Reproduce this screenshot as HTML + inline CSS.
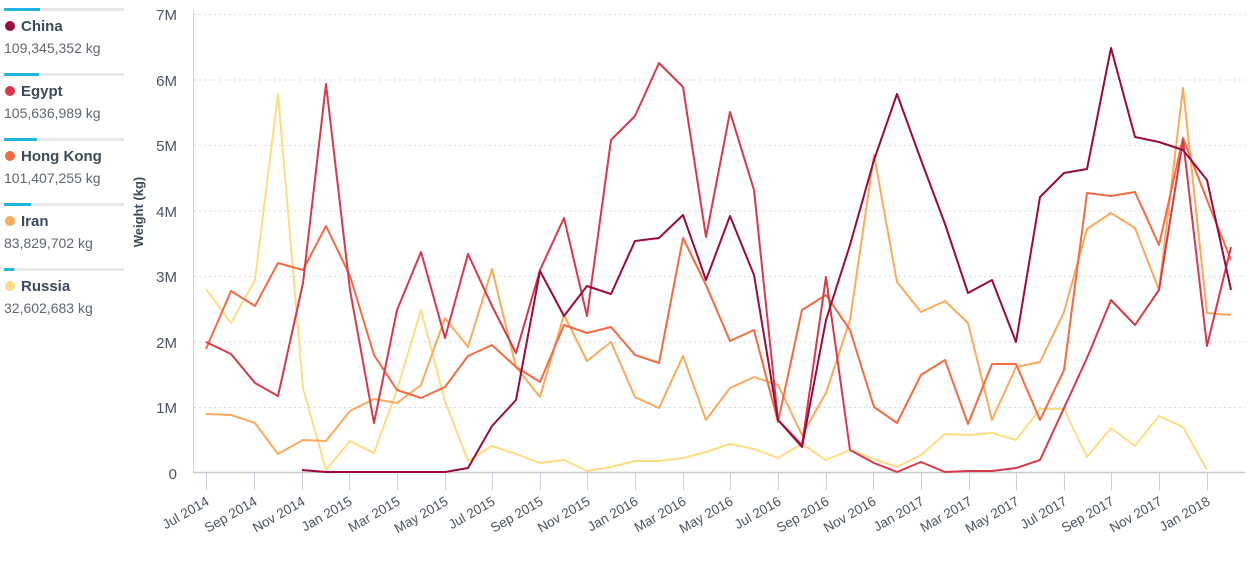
<!DOCTYPE html>
<html><head><meta charset="utf-8"><style>
body{margin:0;width:1255px;height:561px;background:#fff;overflow:hidden;font-family:"Liberation Sans",sans-serif}
</style></head><body>
<svg width="1255" height="561" xmlns="http://www.w3.org/2000/svg" font-family="Liberation Sans, sans-serif">
<g id="legend">
<rect x="4" y="8" width="120" height="3" fill="#e6e7e9"/><rect x="4" y="8" width="36" height="3" fill="#1fb5e3"/>
<circle cx="10" cy="26" r="5" fill="#9b0a3c"/><text x="21" y="31" font-size="15" font-weight="bold" fill="#3d4a5c">China</text><text x="4" y="53" font-size="14" fill="#5f6670">109,345,352 kg</text>
<rect x="4" y="73" width="120" height="3" fill="#e6e7e9"/><rect x="4" y="73" width="35" height="3" fill="#1fb5e3"/>
<circle cx="10" cy="91" r="5" fill="#d63a4a"/><text x="21" y="96" font-size="15" font-weight="bold" fill="#3d4a5c">Egypt</text><text x="4" y="118" font-size="14" fill="#5f6670">105,636,989 kg</text>
<rect x="4" y="138" width="120" height="3" fill="#e6e7e9"/><rect x="4" y="138" width="33" height="3" fill="#1fb5e3"/>
<circle cx="10" cy="156" r="5" fill="#f26b43"/><text x="21" y="161" font-size="15" font-weight="bold" fill="#3d4a5c">Hong Kong</text><text x="4" y="183" font-size="14" fill="#5f6670">101,407,255 kg</text>
<rect x="4" y="203" width="120" height="3" fill="#e6e7e9"/><rect x="4" y="203" width="27" height="3" fill="#1fb5e3"/>
<circle cx="10" cy="221" r="5" fill="#fba95b"/><text x="21" y="226" font-size="15" font-weight="bold" fill="#3d4a5c">Iran</text><text x="4" y="248" font-size="14" fill="#5f6670">83,829,702 kg</text>
<rect x="4" y="268" width="120" height="3" fill="#e6e7e9"/><rect x="4" y="268" width="10" height="3" fill="#1fb5e3"/>
<circle cx="10" cy="286" r="5" fill="#fedc85"/><text x="21" y="291" font-size="15" font-weight="bold" fill="#3d4a5c">Russia</text><text x="4" y="313" font-size="14" fill="#5f6670">32,602,683 kg</text>
</g>
<text transform="translate(143,212) rotate(-90)" text-anchor="middle" font-size="13" font-weight="bold" fill="#3d4a5c">Weight (kg)</text>
<g stroke="#d8dadd" stroke-dasharray="2,3" stroke-width="1">
<line x1="194" x2="1245" y1="14.5" y2="14.5"/><line x1="194" x2="1245" y1="80" y2="80"/><line x1="194" x2="1245" y1="145.5" y2="145.5"/><line x1="194" x2="1245" y1="211" y2="211"/><line x1="194" x2="1245" y1="276.5" y2="276.5"/><line x1="194" x2="1245" y1="342" y2="342"/><line x1="194" x2="1245" y1="407.5" y2="407.5"/>
</g>
<g font-size="15" fill="#4a5360" text-anchor="end">
<text x="177" y="20">7M</text><text x="177" y="86">6M</text><text x="177" y="151">5M</text><text x="177" y="217">4M</text><text x="177" y="282">3M</text><text x="177" y="348">2M</text><text x="177" y="413">1M</text><text x="177" y="479">0</text>
</g>
<line x1="193.5" y1="10" x2="193.5" y2="473" stroke="#d0d4da"/>
<line x1="193" y1="472.5" x2="1245" y2="472.5" stroke="#c5cad3" stroke-width="1.5"/>
<g stroke="#c8d0e0" stroke-width="1">
<line x1="206.5" x2="206.5" y1="473" y2="490"/><line x1="254.5" x2="254.5" y1="473" y2="490"/><line x1="302.5" x2="302.5" y1="473" y2="490"/><line x1="349.5" x2="349.5" y1="473" y2="490"/><line x1="397.5" x2="397.5" y1="473" y2="490"/><line x1="445.5" x2="445.5" y1="473" y2="490"/><line x1="492.5" x2="492.5" y1="473" y2="490"/><line x1="540.5" x2="540.5" y1="473" y2="490"/><line x1="587.5" x2="587.5" y1="473" y2="490"/><line x1="635.5" x2="635.5" y1="473" y2="490"/><line x1="683.5" x2="683.5" y1="473" y2="490"/><line x1="730.5" x2="730.5" y1="473" y2="490"/><line x1="778.5" x2="778.5" y1="473" y2="490"/><line x1="826.5" x2="826.5" y1="473" y2="490"/><line x1="873.5" x2="873.5" y1="473" y2="490"/><line x1="921.5" x2="921.5" y1="473" y2="490"/><line x1="969.5" x2="969.5" y1="473" y2="490"/><line x1="1016.5" x2="1016.5" y1="473" y2="490"/><line x1="1064.5" x2="1064.5" y1="473" y2="490"/><line x1="1111.5" x2="1111.5" y1="473" y2="490"/><line x1="1159.5" x2="1159.5" y1="473" y2="490"/><line x1="1207.5" x2="1207.5" y1="473" y2="490"/>
</g>
<g font-size="13.5" fill="#4a5360" text-anchor="end">
<text transform="translate(210,504) rotate(-30)">Jul 2014</text>
<text transform="translate(258,504) rotate(-30)">Sep 2014</text>
<text transform="translate(306,504) rotate(-30)">Nov 2014</text>
<text transform="translate(353,504) rotate(-30)">Jan 2015</text>
<text transform="translate(401,504) rotate(-30)">Mar 2015</text>
<text transform="translate(449,504) rotate(-30)">May 2015</text>
<text transform="translate(496,504) rotate(-30)">Jul 2015</text>
<text transform="translate(544,504) rotate(-30)">Sep 2015</text>
<text transform="translate(591,504) rotate(-30)">Nov 2015</text>
<text transform="translate(639,504) rotate(-30)">Jan 2016</text>
<text transform="translate(687,504) rotate(-30)">Mar 2016</text>
<text transform="translate(734,504) rotate(-30)">May 2016</text>
<text transform="translate(782,504) rotate(-30)">Jul 2016</text>
<text transform="translate(830,504) rotate(-30)">Sep 2016</text>
<text transform="translate(877,504) rotate(-30)">Nov 2016</text>
<text transform="translate(925,504) rotate(-30)">Jan 2017</text>
<text transform="translate(973,504) rotate(-30)">Mar 2017</text>
<text transform="translate(1020,504) rotate(-30)">May 2017</text>
<text transform="translate(1068,504) rotate(-30)">Jul 2017</text>
<text transform="translate(1115,504) rotate(-30)">Sep 2017</text>
<text transform="translate(1163,504) rotate(-30)">Nov 2017</text>
<text transform="translate(1211,504) rotate(-30)">Jan 2018</text>
</g>
<g fill="none" stroke-width="2" stroke-linejoin="round">
<polyline stroke="#fedc85" points="206,289 231,323 255,280 278,94 303,388 326,470 350,441 374,453 397,390 421,310 445,401 468,461 492,446 516,454 540,463 564,460 587,471 611,467 635,461 659,461 683,458 706,452 730,444 754,449 778,458 802,444 826,460 850,450 874,459 897,467 921,455 945,434 968,435 992,433 1016,440 1040,409 1064,409 1087,457 1111,428 1135,446 1159,416 1183,427 1207,470"/>
<polyline stroke="#fba95b" points="206,414 231,415 255,423 278,454 303,440 326,441 350,411 374,399 397,403 421,385 445,318 468,347 492,269 516,367 540,397 564,315 587,361 611,342 635,397 659,408 683,356 706,420 730,388 754,377 778,385 802,435 826,393 850,320 874,155 897,282 921,312 945,301 968,323 992,420 1016,367 1040,362 1064,312 1087,229 1111,213 1135,228 1159,290 1183,88 1207,313 1231,315"/>
<polyline stroke="#f26b43" points="206,349 231,291 255,306 278,263 303,270 326,226 350,276 374,355 397,390 421,398 445,387 468,356 492,345 516,367 540,382 564,325 587,333 611,327 635,355 659,363 683,238 706,285 730,341 754,330 778,422 802,310 826,295 850,330 874,407 897,423 921,375 945,360 968,424 992,364 1016,364 1040,420 1064,370 1087,193 1111,196 1135,192 1159,245 1183,138 1207,200 1231,260"/>
<polyline stroke="#d63a4a" points="206,342 231,354 255,383 278,396 303,283 326,84 350,290 374,423 397,310 421,252 445,338 468,254 492,306 516,353 540,270 564,218 587,316 611,140 635,116 659,63 683,87 706,237 730,112 754,190 778,420 802,445 826,277 850,450 874,463 897,472 921,462 945,472 968,471 992,471 1016,468 1040,460 1064,408 1087,358 1111,300 1135,325 1159,290 1183,140 1207,346 1231,247"/>
<polyline stroke="#9b0a3c" points="302,470 326,472 350,472 374,472 397,472 421,472 445,472 468,468 492,426 516,400 540,271 564,316 587,286 611,294 635,241 659,238 683,215 706,280 730,216 754,275 778,420 802,447 826,320 850,245 874,160 897,94 921,160 945,224 968,293 992,280 1016,342 1040,197 1064,173 1087,169 1111,48 1135,137 1159,142 1183,150 1207,180 1231,290"/>
</g>
</svg>
</body></html>
